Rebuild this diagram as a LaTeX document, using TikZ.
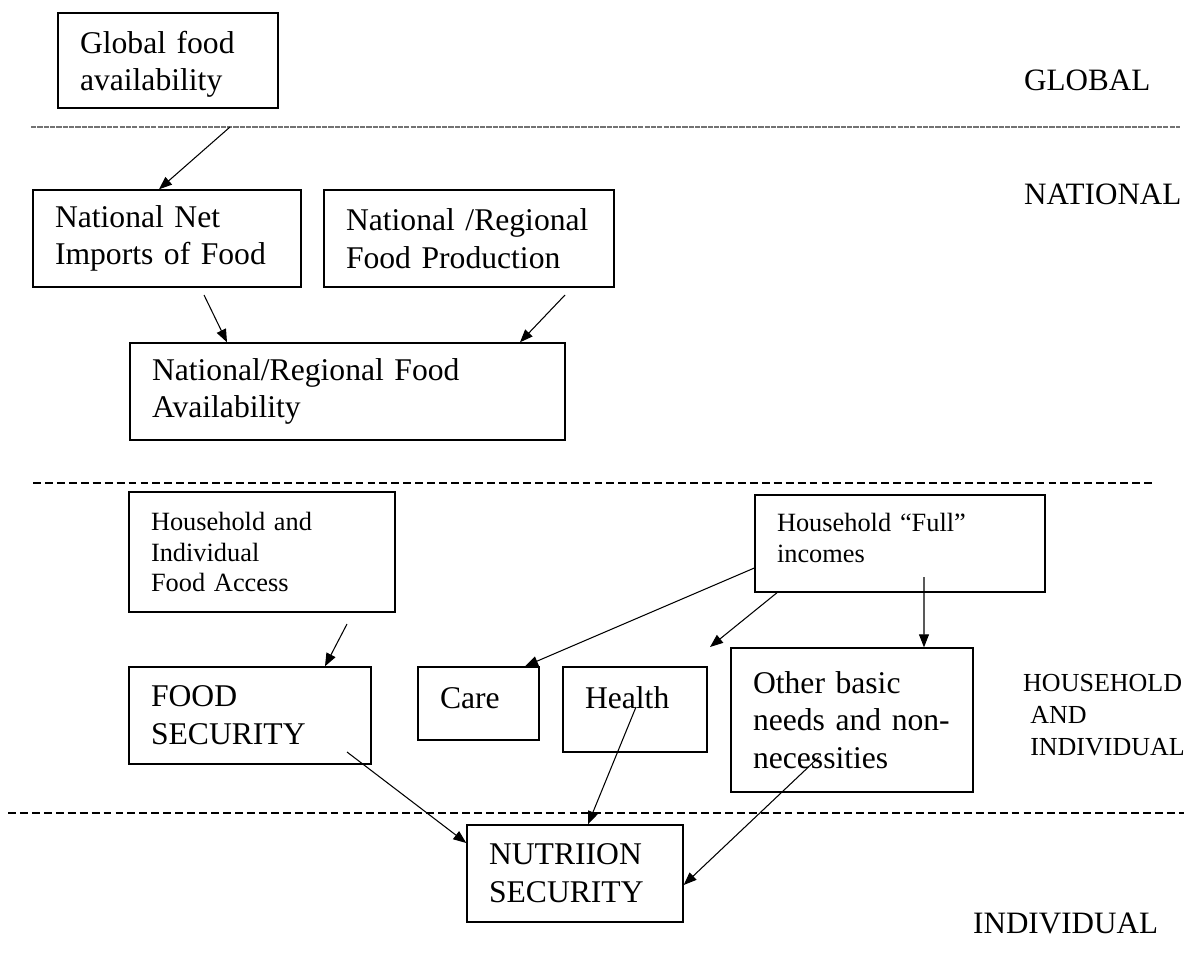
\documentclass[tikz,border=0pt]{standalone}
\usepackage{fontspec}
\setmainfont{Liberation Serif}
\usetikzlibrary{arrows.meta}

\begin{document}
\begin{tikzpicture}[x=0.02cm,y=-0.02cm,
    box/.style={draw,rectangle,line width=0.8pt,inner xsep=0.44cm,align=left,minimum height=1.94cm,font=\fontsize{18}{21.5}\selectfont},
    smallbox/.style={box,font=\fontsize{15}{17.6}\selectfont},
    zone/.style={anchor=west,align=left,font=\fontsize{17.7}{21}\selectfont},
    arr/.style={-{Triangle[length=2.6mm,width=2mm]},line width=0.6pt},
    sep/.style={line width=0.9pt,dash pattern=on 4.5pt off 2.3pt}]
    \useasboundingbox (0,0) rectangle (1186,957);

    % level lines
    \draw[line width=0.6pt,black!55,dash pattern=on 3pt off 0.6pt] (31,127) -- (1180,127);
    \draw[sep] (33,483) -- (1153,483);
    \draw[sep] (8,813) -- (1184,813);

    % level names
    \node[zone] (lglobal) at (1018,80) {GLOBAL};
    \node[zone] (lnational) at (1018,194) {NATIONAL};
    \node[zone,font=\fontsize{14.8}{18}\selectfont] (lhouse) at (1017,715) {HOUSEHOLD\\\hspace*{4pt}AND\\\hspace*{4pt}INDIVIDUAL};
    \node[zone] (lindiv) at (967,923) {INDIVIDUAL};

    % boxes
    \node[box,text width=3.52cm,minimum height=1.9cm,text depth=21pt] (global) at (168,60.5) {Global food\\availability};
    \node[box,text width=4.48cm,text height=12.3pt] (imports) at (167,238.5) {National Net\\Imports of Food};
    \node[box,text width=4.92cm,text height=12.3pt] (production) at (469,238.5) {National /Regional\\Food Production};
    \node[box,text width=7.82cm] (avail) at (347.5,391.5) {National/Regional Food\\Availability};
    \node[smallbox,text width=4.44cm,minimum height=2.4cm] (access) at (262,552) {Household and\\Individual\\Food Access};
    \node[smallbox,text width=4.92cm,text depth=0.86cm] (income) at (900,543.5) {Household ``Full''\\incomes};
    \node[box,text width=3.96cm] (foodsec) at (250,715.5) {FOOD\\SECURITY};
    \node[box,text width=1.54cm,minimum height=1.46cm,text depth=0.22cm] (care) at (478.5,703.5) {Care};
    \node[box,text width=2.0cm,minimum height=1.7cm,text depth=0.46cm] (health) at (635,709.5) {Health};
    \node[box,text width=3.96cm,minimum height=2.88cm] (other) at (852,720) {Other basic\\needs and non-\\necessities};
    \node[box,text width=3.44cm] (nutri) at (575,873.5) {NUTRIION\\SECURITY};

    % arrow starts
    \coordinate (g1) at (230,127);
    \coordinate (i1) at (204,295);
    \coordinate (p1) at (565,295);
    \coordinate (a1) at (347,624);
    \coordinate (h3) at (710,647);
    \coordinate (h4) at (924,577);
    \coordinate (f1) at (347,752);
    \coordinate (e1) at (636,707);
    \coordinate (o1) at (819,757);

    \draw[arr] (g1) -- ([xshift=-0.16cm]imports.north);
    \draw[arr] (i1) -- ([xshift=-2.41cm]avail.north);
    \draw[arr] (p1) -- ([xshift=3.45cm]avail.north);
    \draw[arr] (a1) -- ([xshift=1.5cm]foodsec.north);
    \draw[arr] ([yshift=-0.49cm]income.west) -- ([xshift=0.93cm]care.north);
    \draw[arr] ([xshift=-2.46cm]income.south) -- (h3);
    \draw[arr] (h4) -- ([xshift=1.44cm]other.north);
    \draw[arr] (f1) -- ([yshift=0.61cm]nutri.west);
    \draw[arr] (e1) -- ([xshift=0.26cm]nutri.north);
    \draw[arr] (o1) -- ([yshift=-0.23cm]nutri.east);
\end{tikzpicture}
\end{document}
